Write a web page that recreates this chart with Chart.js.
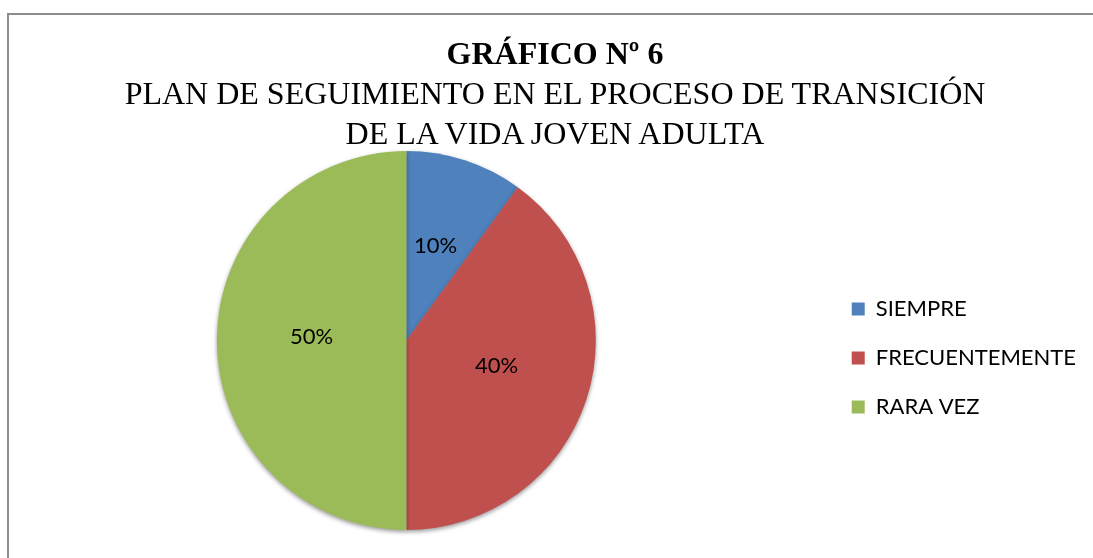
<!DOCTYPE html>
<html>
<head>
<meta charset="utf-8">
<script src="https://cdn.jsdelivr.net/npm/chart.js@4"></script>
<style>
  body { margin: 0; background: #fff; }
  #wrap { position: relative; width: 1093px; height: 558px; overflow: hidden; }
  #frame { position: absolute; left: 7px; top: 13px; width: 1200px; height: 700px;
           border-left: 2px solid #8c8c8c; border-top: 2px solid #8c8c8c; }
  #chart { position: absolute; left: -12px; top: 0; }
  #titles { position: absolute; left: 0; top: 33px; width: 1110px; text-align: center;
            font-family: "Liberation Serif", "Times New Roman", serif; font-size: 32px;
            line-height: 40px; color: #000; }
  #titles .main { font-weight: bold; }
</style>
</head>
<body>
<div id="wrap">
  <div id="frame"></div>
  <canvas id="chart" width="1105" height="558"></canvas>
  <div id="titles"></div>
</div>
<script>
const categories = ["SIEMPRE", "FRECUENTEMENTE", "RARA VEZ"];
const values = [10, 40, 50];
const sliceColors = ["#4F81BD", "#C0504D", "#9BBB59"];
const titleText = "GRÁFICO Nº 6";
const subtitleLines = ["PLAN DE SEGUIMIENTO EN EL PROCESO DE TRANSICIÓN", "DE LA VIDA JOVEN ADULTA"];

const labelFont = "Lato";

// title block
const titles = document.getElementById("titles");
const main = document.createElement("div");
main.className = "main";
main.textContent = titleText;
titles.appendChild(main);
subtitleLines.forEach(line => {
    const d = document.createElement("div");
    d.textContent = line;
    titles.appendChild(d);
});

// percent labels in the middle of each slice
const sliceLabels = {
    id: "sliceLabels",
    afterDatasetsDraw(chart) {
        const ctx = chart.ctx;
        const meta = chart.getDatasetMeta(0);
        const total = values.reduce((a, b) => a + b, 0);
        ctx.save();
        ctx.font = "22px " + labelFont;
        ctx.fillStyle = "#000";
        ctx.textAlign = "center";
        ctx.textBaseline = "middle";
        meta.data.forEach((arc, i) => {
            const p = arc.getCenterPoint();
            ctx.fillText(Math.round(values[i] / total * 100) + "%", p.x, p.y - 4);
        });
        ctx.restore();
    }
};

// soft shadow under the pie
const pieShadow = {
    id: "pieShadow",
    beforeDatasetsDraw(chart) {
        const ctx = chart.ctx;
        ctx.save();
        ctx.shadowColor = "rgba(0,0,0,0.4)";
        ctx.shadowBlur = 4;
        ctx.shadowOffsetY = 2;
    },
    afterDatasetsDraw(chart) {
        chart.ctx.restore();
    }
};

new Chart(document.getElementById("chart"), {
    type: "pie",
    data: {
        labels: categories,
        datasets: [{
            data: values,
            backgroundColor: sliceColors,
            borderWidth: 0
        }]
    },
    options: {
        responsive: false,
        animation: false,
        layout: { padding: { left: 0, right: 7, top: 151, bottom: 28 } },
        plugins: {
            legend: {
                position: "right",
                align: "start",
                title: { display: true, text: " ", font: { size: 10, lineHeight: 1 }, padding: { top: 110, bottom: 0 } },
                labels: {
                    color: "#000",
                    font: { family: labelFont, size: 22 },
                    boxWidth: 13,
                    boxHeight: 13,
                    padding: 27
                }
            },
            tooltip: { enabled: false }
        }
    },
    plugins: [pieShadow, sliceLabels]
});
</script>
</body>
</html>
